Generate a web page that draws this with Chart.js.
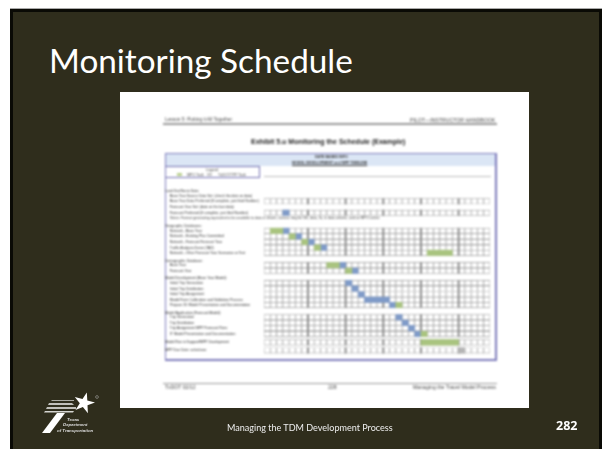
<!DOCTYPE html>
<html lang="en">
<head>
  <meta charset="UTF-8">
  <title>Monitoring Schedule</title>
  <script src="https://cdn.jsdelivr.net/npm/chart.js"></script>
  <style>
    html, body { margin: 0; padding: 0; background: #fff; }
    body { width: 602px; height: 449px; position: relative; overflow: hidden; font-family: "Liberation Sans", Arial, sans-serif; }
    .abs { position: absolute; white-space: nowrap; }
    #slide { position: absolute; left: 10px; top: 8px; width: 592px; height: 441px; box-sizing: border-box; background: #2f2d1c; border-top: 1px solid #aaa; }
    #edge { position: absolute; left: 10px; top: 9px; width: 592px; height: 440px; box-sizing: border-box; border: solid #0a0a05; border-width: 3px 3px 0 3px; }
    #title { left: 49px; top: 40px; font: 33.3px/40px Lato, sans-serif; color: #fff; }
    #paper { position: absolute; left: 120px; top: 92px; width: 409px; height: 316px; background: #fff; }
    #sheet { position: absolute; left: 0; top: 0; width: 602px; height: 449px; filter: blur(0.85px); color: #444; }
    #sheet canvas { position: absolute; left: 165px; top: 166px; }
    #footer { left: 227px; top: 422px; font: 9.05px Lato, sans-serif; color: #eee; }
    #page { left: 556px; top: 417px; font: bold 12.5px "Open Sans", sans-serif; color: #fff; }
    .rule { position: absolute; background: #999; }
    #band { position: absolute; left: 165px; top: 153px; width: 332px; height: 13px; background: #dbe6f5; }
    #frame { position: absolute; left: 165px; top: 153px; width: 332px; height: 208px; box-sizing: border-box; border: solid #7d7bbb; border-width: 1.5px 2px 2px 1px; }
    #legendBox { position: absolute; left: 165px; top: 166px; width: 95px; height: 12px; box-sizing: border-box; border: solid #6f6db0; border-width: 1px 1px 1px 0; }
    .tiny { font-size: 3.6px; color: #333; }
  </style>
</head>
<body>
  <div id="slide"></div>
  <div id="edge"></div>
  <div id="title" class="abs">Monitoring Schedule</div>
  <div id="paper"></div>

  <div id="sheet">
    <div class="abs" style="left:165px;top:117px;font-size:4.8px;">Lesson 5: Putting it All Together</div>
    <div class="abs" style="left:410px;top:117px;font-size:5.2px;">PILOT—INSTRUCTOR HANDBOOK</div>
    <div class="rule" style="left:163px;top:123px;width:334px;height:2px;"></div>
    <div class="abs" style="left:251px;top:138px;font-size:7px;font-weight:bold;color:#222;">Exhibit 5.u Monitoring the Schedule (Example)</div>
    <div id="band"></div>
    <div id="frame"></div>
    <div id="legendBox"></div>
    <div class="abs tiny" style="left:315px;top:155px;font-weight:bold;">DATE BASED INFO</div>
    <div class="abs tiny" style="left:292px;top:161px;font-weight:bold;text-decoration:underline;">MODEL DEVELOPMENT and MPP TIMELINE</div>
    <div class="abs tiny" style="left:206px;top:168px;">Legend</div>
    <div class="abs" style="left:177px;top:173px;width:5px;height:3px;background:#b9cf8e;"></div>
    <div class="abs tiny" style="left:187px;top:173px;">MPO Task</div>
    <div class="abs" style="left:207px;top:173px;width:5px;height:3px;background:#c9c9c9;"></div>
    <div class="abs tiny" style="left:218px;top:173px;">TxDOT/TPP Task</div>
    <canvas id="chart" width="332" height="195"></canvas>
    <div class="abs" style="left:170px;top:215.5px;font-size:3.5px;color:#3a3a3a;">Notes: Format generating equivalent to be available to data is shown, various may be 5th, data, 5x, in data volume, and an MPO center.</div>
    <div class="rule" style="left:163px;top:383px;width:334px;height:1px;"></div>
    <div class="abs" style="left:165px;top:384px;font-size:5.1px;">TxDOT 02/12</div>
    <div class="abs" style="left:328px;top:384px;font-size:5.1px;">228</div>
    <div class="abs" style="left:413px;top:384px;font-size:5.2px;">Managing the Travel Model Process</div>
  </div>

  <svg class="abs" style="left:38px;top:392px;filter:blur(0.3px);overflow:visible;" width="66" height="46" viewBox="0 0 66 46">
    <g fill="#fff">
      <polygon points="48.8,0.4 49.3,8.4 57,10.4 49.5,13.3 49.9,21.3 44.9,15.1 37.5,17.9 41.8,11.2 36.8,5 44.5,7.1"/>
      <polygon points="14,8 36,8 36,9 13,9" opacity="0.6"/>
      <polygon points="11,11 34,11 36,13 10,13" opacity="0.7"/>
      <polygon points="9,15 38,15 38,17 8,17" opacity="0.7"/>
      <polygon points="7,19 36,19 35,20.5 6,20.5" opacity="0.8"/>
      <polygon points="19,21 27,21 12,41 4,41"/>
      <circle cx="59" cy="5" r="1.4" fill="none" stroke="#bbb" stroke-width="0.5"/>
    </g>
    <g fill="#ddd" font-family="Liberation Sans" font-size="4.4" font-weight="bold" font-style="italic">
      <text x="29" y="29">Texas</text>
      <text x="25" y="34">Department</text>
      <text x="19" y="39.5">of Transportation</text>
    </g>
  </svg>
  <div id="footer" class="abs">Managing the TDM Development Process</div>
  <div id="page" class="abs">282</div>

  <script>
    const rowLabels = [
      'Land Use/Socio Data:',
      'Base Year Source Data Set: (check the date on data)',
      'Base Year Data Preferred (If complete, just third Number)',
      'Forecast Year Set: (date on the last data)',
      'Forecast Preferred (If complete, just third Number)',
      '',
      'Geographic Databases:',
      'Network - Base Year',
      'Network - Existing Plus Committed',
      'Network - Forecast Forecast Year',
      'Traffic Analysis Zones (TAZ)',
      'Network - Other Forecast Year Scenarios or Test',
      'Demographic Database:',
      'Base Year',
      'Forecast Year',
      'Model Development (Base Year Model):',
      'Initial Trip Generation',
      'Initial Trip Distribution',
      'Initial Trip Assignment',
      'Model Form Calibration and Validation Process',
      'Prepare 2D Model Presentation and Documentation',
      'Model Application (Forecast Model):',
      'Trip Generation',
      'Trip Distribution',
      'Trip Assignment MPP Forecast Runs',
      'IT Model Presentation and Documentation',
      'Model Run in Support/MPP Development',
      'MPP Due Date: xx/xx/xxxx'
    ];
    // row number on the y axis, the gaps in the form are not even
    const rowSlots = [0, 0.9, 1.9, 2.9, 3.95, 4.95, 6.3, 7.2, 8.2, 9.2, 10.2, 11.15, 12.6, 13.35, 14.35,
      15.7, 16.55, 17.55, 18.6, 19.55, 20.5, 21.9, 22.7, 23.7, 24.65, 25.7, 27.2, 28.65];
    const outdentRows = [0, 6, 12, 15, 21, 26, 27];
    const gridRows = [2, 4, 7, 8, 9, 10, 11, 13, 14, 16, 17, 18, 19, 20, 22, 23, 24, 25, 26, 27];

    const monthLetters = ['J','J','A','S','O','N','D','J','F','M','A','M','J','J','A','S','O','N','D',
      'J','F','M','A','M','J','J','A','S','O','N','D','J','F','M','A','M'];
    const yearLabels = ['2011', '2012', '2013', '2014'];
    const yearCenters = [3.5, 13, 25, 33.5];
    const halfYearLines = [7, 13, 19, 25, 31];

    // [row, first month, end month]
    const greenTasks = [[7,1,3],[8,4,5],[9,6,7],[10,8,9],[11,26,30],[13,10,12],[14,13,14],[20,21,22],[25,25,26],[26,25,31]];
    const blueTasks = [[4,3,4],[7,3,4],[8,5,6],[9,7,8],[10,9,10],[13,12,13],[14,14,15],[16,13,14],[17,14,15],[18,15,16],
      [19,16,20],[20,20,21],[22,21,22],[23,22,23],[24,23,24],[25,24,25]];
    const greyTasks = [[27,31,32]];

    const toBars = (list) => list.map(([row, a, b]) => ({ x: [a, b], y: rowSlots[row] }));

    const cells = [];
    const lines = [];
    gridRows.forEach((row) => {
      monthLetters.forEach((_, m) => cells.push({ x: [m, m + 1], y: rowSlots[row] }));
      halfYearLines.forEach((d) => lines.push({ x: [d - 0.1, d + 0.1], y: rowSlots[row] }));
    });

    new Chart(document.getElementById('chart').getContext('2d'), {
      type: 'bar',
      data: {
        datasets: [
          { label: 'MPO', data: toBars(greenTasks), backgroundColor: '#a9c47f', order: 1 },
          { label: 'TxDOT', data: toBars(blueTasks), backgroundColor: '#7f9bc9', order: 1 },
          { label: 'Due', data: toBars(greyTasks), backgroundColor: '#b5b5b5', order: 1 },
          { label: 'Half years', data: lines, backgroundColor: '#8a8a8a', order: 2 },
          { label: 'Cells', data: cells, backgroundColor: '#fff', borderColor: '#999', borderWidth: 0.7, borderSkipped: false, order: 3 }
        ]
      },
      options: {
        indexAxis: 'y',
        responsive: false,
        animation: false,
        grouped: false,
        barThickness: 5.4,
        layout: { padding: { right: 7 } },
        plugins: { legend: { display: false }, tooltip: { enabled: false } },
        scales: {
          x: {
            type: 'linear', position: 'top', min: 0, max: 36, weight: 0,
            grid: { display: false },
            border: { display: false },
            afterBuildTicks: (s) => { s.ticks = monthLetters.map((_, m) => ({ value: m + 0.5 })); },
            afterFit: (s) => { s.height = 6; },
            ticks: {
              autoSkip: false, maxRotation: 0, padding: 0.5,
              font: { size: 3.8, family: 'Liberation Sans' }, color: '#333',
              callback: (v, i) => monthLetters[i]
            }
          },
          x2: {
            type: 'linear', position: 'top', min: 0, max: 36, weight: 1,
            grid: { display: false },
            border: { display: true, color: '#bbb' },
            afterBuildTicks: (s) => { s.ticks = yearCenters.map((c) => ({ value: c })); },
            afterFit: (s) => { s.height = 10; },
            ticks: {
              autoSkip: false, maxRotation: 0, padding: 0.5,
              font: { size: 3.8, family: 'Liberation Sans' }, color: '#333',
              callback: (v, i) => yearLabels[i]
            }
          },
          y: {
            type: 'linear', reverse: true, min: -1, max: 29.6,
            grid: { display: false },
            border: { display: false },
            afterBuildTicks: (s) => { s.ticks = rowSlots.map((v) => ({ value: v })); },
            afterFit: (s) => { s.width = 99; },
            ticks: {
              autoSkip: false, crossAlign: 'far', padding: 0,
              font: { size: 3.5, family: 'Liberation Sans' }, color: '#222',
              callback: (v, i) => (outdentRows.includes(i) ? '' : '\u00a0\u00a0\u00a0\u00a0\u00a0') + rowLabels[i]
            }
          }
        }
      }
    });
  </script>
</body>
</html>
